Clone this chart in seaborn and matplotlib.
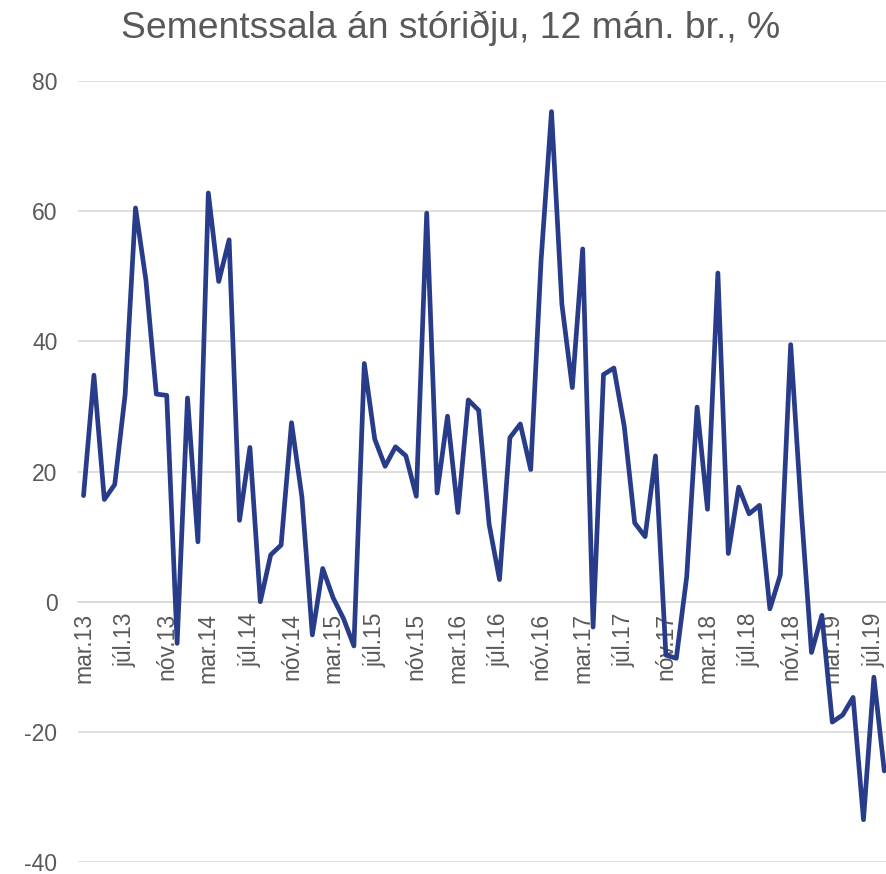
import matplotlib
matplotlib.use("Agg")
import numpy as np
import pandas as pd
import matplotlib.pyplot as plt
import seaborn as sns

sns.set_style('white')
plt.rcParams['font.family'] = ['Liberation Sans', 'DejaVu Sans']
plt.rcParams['axes.unicode_minus'] = False

# Sementssala án stóriðju, 12 mánaða breyting (%), mar.13 - ágú.19
START = '2013-03'
values = [16.3, 34.8, 15.7, 18.0, 31.8, 60.5, 49.4, 31.9, 31.7, -6.4,
          31.3, 9.2, 62.8, 49.2, 55.6, 12.5, 23.7, 0.0, 7.2, 8.7,
          27.5, 16.1, -5.1, 5.1, 0.6, -2.6, -6.8, 36.6, 25.0, 20.8,
          23.8, 22.4, 16.2, 59.7, 16.7, 28.5, 13.7, 31.0, 29.4, 11.9,
          3.4, 25.2, 27.3, 20.3, 52.5, 75.3, 45.7, 32.9, 54.2, -3.9,
          34.9, 35.9, 26.9, 12.1, 10.0, 22.4, -8.2, -8.7, 3.8, 29.9,
          14.2, 50.5, 7.4, 17.6, 13.5, 14.8, -1.1, 4.1, 39.5, 14.4,
          -7.8, -2.1, -18.5, -17.4, -14.7, -33.5, -11.6, -26.0]
MONTHS_IS = ['jan', 'feb', 'mar', 'apr', 'maí', 'jún', 'júl', 'ágú',
             'sep', 'okt', 'nóv', 'des']
TITLE = "Sementssala án stóriðju, 12 mán. br., %"

dates = pd.date_range(START, periods=len(values), freq='MS')
labels = ["{0}.{1:02d}".format(MONTHS_IS[d.month - 1], d.year % 100) for d in dates]
df = pd.DataFrame({'idx': np.arange(len(values)), 'val': values, 'label': labels})

grey = '#595959'
fig = plt.figure(figsize=(8.87, 8.74), dpi=100)
ax = fig.add_axes([0.0883, 0.0137, 0.9145, 0.8936])

sns.lineplot(x='idx', y='val', data=df, ax=ax, color='#283C8A', linewidth=3.4,
             zorder=3, solid_joinstyle='round', solid_capstyle='round')

ax.set_xlim(-0.5, len(values) - 0.5)
ax.set_ylim(-40, 80)
ax.set_yticks(np.arange(-40, 81, 20))
ax.yaxis.grid(True, color='#d9d9d9', linewidth=1.2)
ax.tick_params(axis='y', length=0, labelsize=16.5, labelcolor=grey, pad=15)

# labels at every 4th category, tick marks at category boundaries
ax.set_xticks(list(df['idx'][::4]))
ax.set_xticklabels(list(df['label'][::4]))
ax.set_xticks(np.arange(-0.5, len(values), 4), minor=True)
ax.tick_params(axis='x', which='major', length=0, labelsize=16.5, labelcolor=grey,
               pad=8, labelrotation=90)
ax.tick_params(axis='x', which='minor', length=6, color='#d9d9d9', width=1.2,
               direction='out')
plt.setp(ax.get_xticklabels(), va='top', ha='center')

for s in ['top', 'right', 'left']:
    ax.spines[s].set_visible(False)
ax.spines['bottom'].set_position(('data', 0))
ax.spines['bottom'].set_color('#d9d9d9')
ax.spines['bottom'].set_linewidth(1.2)
ax.set_xlabel('')
ax.set_ylabel('')

fig.text(0.508, 0.968, TITLE, ha='center', va='center', fontsize=26.8, color=grey)

fig.savefig('out.png', dpi=100)
